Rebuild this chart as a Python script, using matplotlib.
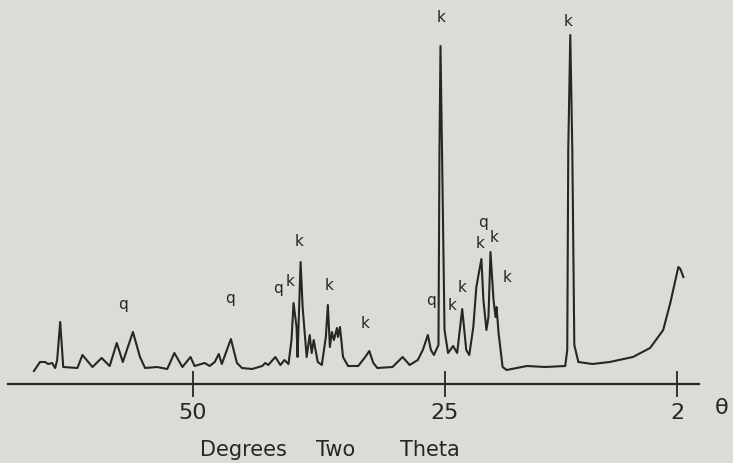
import matplotlib
matplotlib.use("Agg")
import matplotlib.pyplot as plt

# diffraction trace (degrees two theta, height above baseline)
two_theta = [65.7, 65.1, 64.6, 64.3, 63.9, 63.6, 63.4, 63.1, 62.8, 61.4,
             60.9, 59.9, 59.0, 58.2, 57.5, 56.9, 55.9, 55.2, 54.7, 53.5,
             52.5, 51.8, 51.0, 50.2, 49.8, 48.8, 48.3, 47.8, 47.4, 47.1,
             46.2, 45.6, 45.1, 44.1, 43.1, 42.8, 42.5, 41.8, 41.3, 40.9,
             40.5, 40.2, 40.0, 39.7, 39.6, 39.3, 39.1, 38.7, 38.4, 38.2,
             38.0, 37.6, 37.2, 36.8, 36.6, 36.4, 36.2, 36.0, 35.7, 35.6,
             35.4, 35.1, 34.6, 33.6, 32.9, 32.5, 32.1, 31.7, 30.2, 29.2,
             28.5, 27.7, 27.2, 26.7, 26.4, 26.1, 25.65, 25.55, 25.45, 25.3,
             25.05, 24.9, 24.7, 24.2, 23.8, 23.3, 22.9, 22.6, 22.2, 21.9,
             21.4, 21.2, 20.9, 20.7, 20.5, 20.2, 20.0, 19.9, 19.7, 19.3,
             18.9, 16.9, 15.1, 13.1, 12.9, 12.8, 12.6, 12.4, 12.2, 11.8,
             10.4, 8.7, 6.4, 4.7, 3.4, 2.7, 1.9, 1.7, 1.4]
intensity = [13, 22, 22, 20, 21, 16, 24, 62, 17, 16,
             29, 17, 26, 18, 41, 22, 52, 27, 16, 17,
             15, 31, 17, 27, 18, 21, 18, 22, 30, 20,
             45, 21, 16, 15, 18, 21, 19, 27, 19, 24,
             20, 44, 81, 57, 27, 122, 77, 27, 49, 31,
             44, 22, 19, 47, 79, 37, 52, 44, 56, 47,
             57, 27, 18, 18, 27, 33, 21, 16, 17, 27,
             19, 24, 34, 49, 34, 29, 39, 234, 338, 234,
             54, 44, 31, 38, 31, 75, 34, 29, 57, 97,
             125, 84, 54, 67, 132, 84, 67, 77, 51, 17,
             14, 18, 17, 18, 34, 234, 349, 234, 39, 22,
             20, 22, 27, 36, 54, 81, 117, 115, 107]

# mineral peak labels (k = kaolinite, q = quartz)
peak_labels = ["q", "q", "q", "k", "k", "k", "k", "q", "k", "k",
               "k", "q", "k", "k", "k", "k"]
label_theta = [56.9, 46.3, 41.5, 40.3, 39.5, 36.5, 32.9, 26.4, 25.4, 24.3,
               23.3, 21.2, 21.5, 20.1, 18.9, 12.8]
label_height = [79, 86, 96, 102, 142, 99, 61, 84, 366, 79,
                97, 162, 141, 146, 107, 363]

tick_values = [50, 25, 2]
tick_labels = ["50", "25", "2"]

bg = "#dadcd6"
ink = "#262626"

fig = plt.figure(figsize=(7.33, 4.63), dpi=100, facecolor=bg)
ax = fig.add_axes([0, 79 / 463, 1, 384 / 463])
ax.set_facecolor(bg)

ax.plot(two_theta, intensity, color=ink, lw=1.5)

for lab, t, h in zip(peak_labels, label_theta, label_height):
    ax.text(t, h, lab, ha="center", va="center", fontsize=11, color=ink)

ax.set_xlim(69.06, -3.51)
ax.set_ylim(0, 384)

for side in ["left", "right", "top"]:
    ax.spines[side].set_visible(False)
ax.spines["bottom"].set_bounds(68.27, -0.14)
ax.spines["bottom"].set_linewidth(1.6)
ax.spines["bottom"].set_color(ink)

ax.set_yticks([])
ax.set_xticks(tick_values)
ax.set_xticklabels(tick_labels)
ax.tick_params(axis="x", direction="inout", length=19, width=1.3,
               color=ink, labelcolor=ink, labelsize=16, pad=4)

fig.text(722 / 733, 1 - 408 / 463, "θ", ha="center", va="center",
         fontsize=16, color=ink)
for word, xpix in [("Degrees", 243), ("Two", 336), ("Theta", 430)]:
    fig.text(xpix / 733, 1 - 450 / 463, word, ha="center", va="center",
             fontsize=15, color=ink)

fig.savefig("out.png", dpi=100, facecolor=bg)
